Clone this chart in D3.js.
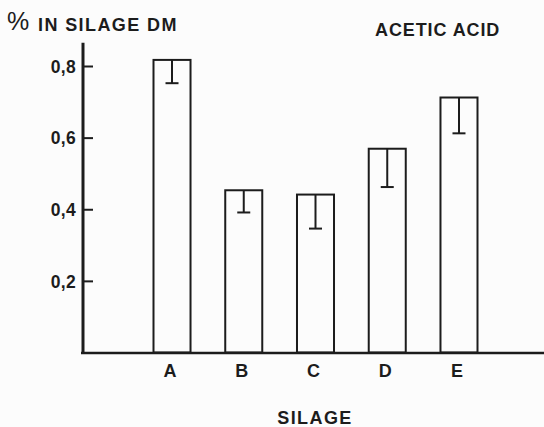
<!DOCTYPE html>
<html>
<head>
<meta charset="utf-8">
<script src="https://cdn.jsdelivr.net/npm/d3@7"></script>
<style>
  body { margin: 0; background: #fcfcfc; }
  text { font-family: "Liberation Sans", Arial, sans-serif; fill: #1c1c1c; }
</style>
</head>
<body>
<div id="chart"></div>
<script>
var silages = ["A", "B", "C", "D", "E"]
var acetic = [0.817, 0.453, 0.441, 0.569, 0.712]
var acetic_low = [0.752, 0.391, 0.346, 0.462, 0.612]
var yTicks = [0.2, 0.4, 0.6, 0.8]

var width = 544
var height = 427
var ink = "#1c1c1c"

var svg = d3.select("#chart")
    .append("svg")
    .attr("width", width)
    .attr("height", height)

var x = d3.scaleBand()
    .domain(silages)
    .range([153.5, 477.5])
    .paddingInner(0.484)
    .paddingOuter(0)

var y = d3.scaleLinear()
    .domain([0, 0.8])
    .range([352.5, 66])

// y axis, ticks point inward
var gy = svg.append("g")
    .attr("transform", "translate(83,0)")
    .call(d3.axisLeft(y)
        .tickValues(yTicks)
        .tickSize(-10)
        .tickPadding(7)
        .tickFormat(d => d3.format(".1f")(d).replace(".", ",")))
gy.select(".domain").remove()
gy.selectAll(".tick line").attr("stroke", ink).attr("stroke-width", 2)
gy.selectAll(".tick text")
    .attr("font-size", 17.5)
    .attr("font-weight", "bold")
    .attr("letter-spacing", 0.3)
    .attr("dy", "0.35em")

svg.append("line")
    .attr("x1", 83).attr("x2", 83)
    .attr("y1", y(0.865)).attr("y2", y(0) + 1)
    .attr("stroke", ink).attr("stroke-width", 3)

// bars
svg.selectAll("rect.bar")
    .data(silages)
    .enter().append("rect")
    .attr("class", "bar")
    .attr("x", d => x(d))
    .attr("y", (d, i) => y(acetic[i]))
    .attr("width", x.bandwidth())
    .attr("height", (d, i) => y(0) - y(acetic[i]))
    .attr("fill", "none")
    .attr("stroke", ink)
    .attr("stroke-width", 2)

// error bars hanging from bar top
var err = svg.selectAll("g.err")
    .data(silages)
    .enter().append("g")
    .attr("class", "err")
err.append("line")
    .attr("x1", d => x(d) + x.bandwidth() / 2)
    .attr("x2", d => x(d) + x.bandwidth() / 2)
    .attr("y1", (d, i) => y(acetic[i]))
    .attr("y2", (d, i) => y(acetic_low[i]))
    .attr("stroke", ink).attr("stroke-width", 2)
err.append("line")
    .attr("x1", d => x(d) + x.bandwidth() / 2 - 6.5)
    .attr("x2", d => x(d) + x.bandwidth() / 2 + 6.5)
    .attr("y1", (d, i) => y(acetic_low[i]))
    .attr("y2", (d, i) => y(acetic_low[i]))
    .attr("stroke", ink).attr("stroke-width", 2)

// baseline
svg.append("line")
    .attr("x1", 81).attr("x2", width)
    .attr("y1", y(0) + 0.5).attr("y2", y(0) + 0.5)
    .attr("stroke", ink).attr("stroke-width", 2.5)

// category labels
svg.selectAll("text.cat")
    .data(silages)
    .enter().append("text")
    .attr("class", "cat")
    .attr("x", d => x(d) + x.bandwidth() / 2 - 2)
    .attr("y", 377)
    .attr("text-anchor", "middle")
    .attr("font-size", 18)
    .attr("font-weight", "bold")
    .text(d => d)

svg.append("text")
    .attr("x", 315).attr("y", 423.5)
    .attr("text-anchor", "middle")
    .attr("font-size", 18)
    .attr("font-weight", "bold")
    .attr("letter-spacing", 1.4)
    .text("SILAGE")

svg.append("text")
    .attr("x", 7).attr("y", 30)
    .attr("font-family", "DejaVu Sans")
    .attr("font-size", 25)
    .attr("font-weight", 200)
    .attr("fill", "#555")
    .text("%")

svg.append("text")
    .attr("x", 38).attr("y", 30.5)
    .attr("font-size", 18)
    .attr("font-weight", "bold")
    .attr("letter-spacing", 1.4)
    .text("IN SILAGE DM")

svg.append("text")
    .attr("x", 375).attr("y", 35.5)
    .attr("font-size", 18)
    .attr("font-weight", "bold")
    .attr("letter-spacing", 0.9)
    .text("ACETIC ACID")
</script>
</body>
</html>
